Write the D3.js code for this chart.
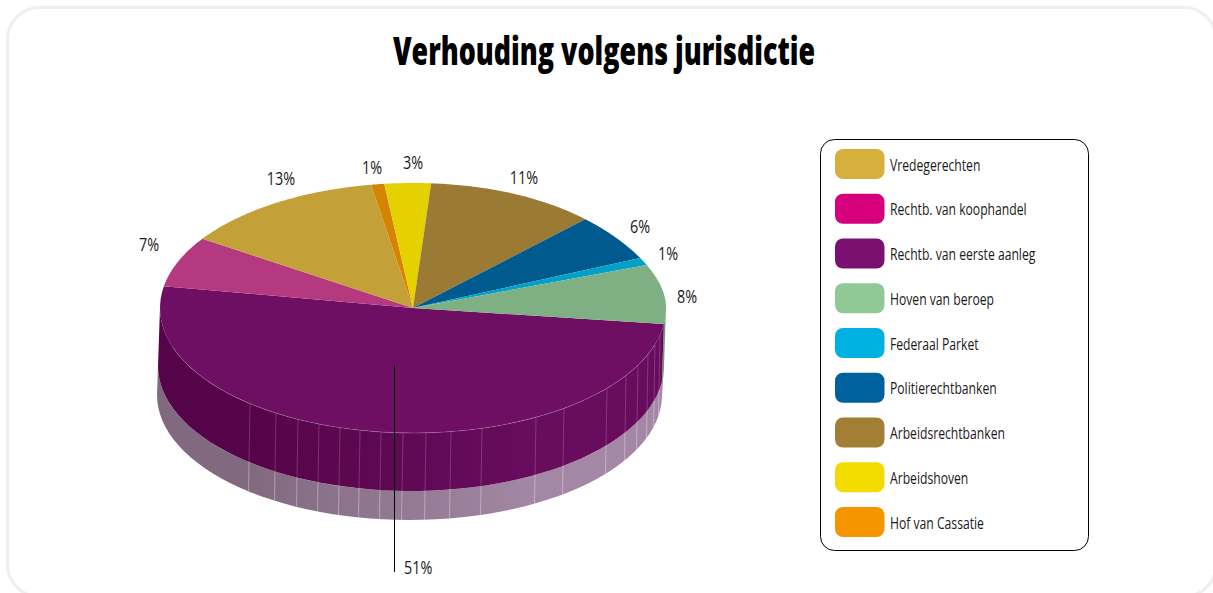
<!DOCTYPE html>
<html><head><meta charset="utf-8">
<script src="https://cdn.jsdelivr.net/npm/d3@7"></script>
<style>html,body{margin:0;padding:0;background:#fff;overflow:hidden}svg{display:block}text{font-family:"Open Sans","Noto Sans",sans-serif;fill:#1a1a1a}</style>
</head><body><svg id="c" width="1213" height="593"></svg>
<script>
const chartTitle = "Verhouding volgens jurisdictie";
const sliceNames = ["Rechtb. van eerste aanleg","Rechtb. van koophandel","Vredegerechten","Hof van Cassatie","Arbeidshoven","Arbeidsrechtbanken","Politierechtbanken","Federaal Parket","Hoven van beroep"];
const sliceValues = [50.7,6.55,13.0,0.83,2.96,10.76,5.83,1.0,8.3];
const sliceLabels = ["51%","7%","13%","1%","3%","11%","6%","1%","8%"];
const sliceColors = ["#6e0f64","#b5397f","#c4a039","#d48400","#e5d000","#9b7a34","#005a8e","#00a0c8","#7fb083"];
const legendNames = ["Vredegerechten","Rechtb. van koophandel","Rechtb. van eerste aanleg","Hoven van beroep","Federaal Parket","Politierechtbanken","Arbeidsrechtbanken","Arbeidshoven","Hof van Cassatie"];
const legendColors = ["#d6af3c","#d6007d","#7a1070","#90c896","#00b0e0","#00619e","#a37f36","#f2dc00","#f59500"];
const wallSeamX = [250,276,298,319,340,360,381,403,426,451,482,536,564,607,626,638,648,655,660];

const W={cx:413,cy:308,rx:253,ry:125};
const WB={cx:411,cy:366,rx:253,ry:125};
const LB={cx:409.5,cy:395,rx:252.5,ry:125};
const labelAnchors=[[404,567,"start"],[149,244],[281,178],[372,167],[413,162],[524,177],[640,226],[668,253],[687,296]];
const svg=d3.select("#c");
const defs=svg.append("defs");
function grad(id,a,b){const g=defs.append("linearGradient").attr("id",id).attr("gradientUnits","userSpaceOnUse").attr("x1",160).attr("x2",660).attr("y1",0).attr("y2",0);
 g.append("stop").attr("offset","0.18").attr("stop-color",a);g.append("stop").attr("offset","0.75").attr("stop-color",b);}
grad("wallG","#560449","#680c5e");grad("bandG","#816a80","#a387a4");

svg.append("rect").attr("x",7.5).attr("y",7.5).attr("width",1208.5).attr("height",589).attr("rx",32).attr("fill","#fff").attr("stroke","#eeefef").attr("stroke-width",3);

svg.append("text").text(chartTitle).attr("transform","translate(604,65) scale(.707,1)").attr("text-anchor","middle").style("font-size","38px").style("font-weight",800).style("fill","#000");

// d3.pie measures clockwise from 12 o'clock; the purple slice starts 7.4deg below the right edge
const startA=Math.PI/2+7.4*Math.PI/180;
const arcs=d3.pie().sort(null).value(d=>d).startAngle(startA).endAngle(startA+2*Math.PI)(sliceValues);
const pt=(E,a)=>[E.cx+E.rx*Math.cos(a-Math.PI/2),E.cy+E.ry*Math.sin(a-Math.PI/2)];
// the reference's top face is slightly flatter in its upper right quadrant
const ptTop=a=>{const c=Math.cos(a-Math.PI/2),s=Math.sin(a-Math.PI/2);
 const f=(s<0&&c>0)?1-0.14*Math.pow(c,4):1;
 return [W.cx+W.rx*c,W.cy+W.ry*s*f];};
const line=d3.line();
const sweep=(a0,a1)=>d3.range(0,61).map(k=>a0+(a1-a0)*k/60);
function ring(E1,E2,a0,a1){const n=sweep(a0,a1);
 return line(n.map(a=>pt(E1,a)).concat(n.slice().reverse().map(a=>pt(E2,a))))+"Z";}
const aR=Math.PI/2,aL=3*Math.PI/2;
// lower translucent band
svg.append("path").attr("d",ring(WB,LB,aR,aL)).attr("fill","url(#bandG)");
// upper wall
svg.append("path").attr("d",ring(W,WB,aR,startA)).attr("fill","#6d9a73");
svg.append("path").attr("d",ring(W,WB,startA,aL)).attr("fill","url(#wallG)");
// seams
const yOn=(E,x)=>E.cy+E.ry*Math.sqrt(1-Math.pow((x-E.cx)/E.rx,2));
wallSeamX.forEach(x=>{
 svg.append("line").attr("x1",x).attr("y1",yOn(W,x)).attr("x2",x-1).attr("y2",yOn(WB,x-1)).attr("stroke","#fff").attr("stroke-opacity",.18).attr("stroke-width",1);
 svg.append("line").attr("x1",x-1).attr("y1",yOn(WB,x-1)).attr("x2",x-1.5).attr("y2",yOn(LB,x-1.5)).attr("stroke","#fff").attr("stroke-opacity",.35).attr("stroke-width",1);
});
// top face
arcs.forEach((d,i)=>{
 svg.append("path").attr("d",line([[W.cx,W.cy]].concat(sweep(d.startAngle,d.endAngle).map(ptTop)))+"Z").attr("fill",sliceColors[i]);
});
// faint rim on front
svg.append("path").attr("d",line(sweep(aR+0.3,aR+2.82).map(a=>pt(W,a)))).attr("fill","none").attr("stroke","#fff").attr("stroke-opacity",.22).attr("stroke-width",.8);
// leader
svg.append("line").attr("x1",394.5).attr("x2",394.5).attr("y1",365).attr("y2",572).attr("stroke","#000").attr("stroke-width",1);
// labels
sliceLabels.forEach((l,i)=>{const [x,y,an]=labelAnchors[i];
 svg.append("text").text(l).attr("transform",`translate(${x},${y}) scale(.8,1)`).attr("text-anchor",an||"middle").attr("dominant-baseline","central").style("font-size","18px");
});
// legend
svg.append("rect").attr("x",820.5).attr("y",139.5).attr("width",268).attr("height",411).attr("rx",14).attr("fill","#fff").attr("stroke","#000");
const ly=d3.scalePoint().domain(legendNames).range([164,522]);
legendNames.forEach((n,i)=>{
 svg.append("rect").attr("x",835).attr("y",ly(n)-15).attr("width",49.5).attr("height",30).attr("rx",8).attr("fill",legendColors[i]);
 svg.append("text").text(n).attr("transform",`translate(890,${ly(n)+0.5}) scale(.76,1)`).attr("dominant-baseline","central").style("font-size","16px");
});
</script></body></html>
